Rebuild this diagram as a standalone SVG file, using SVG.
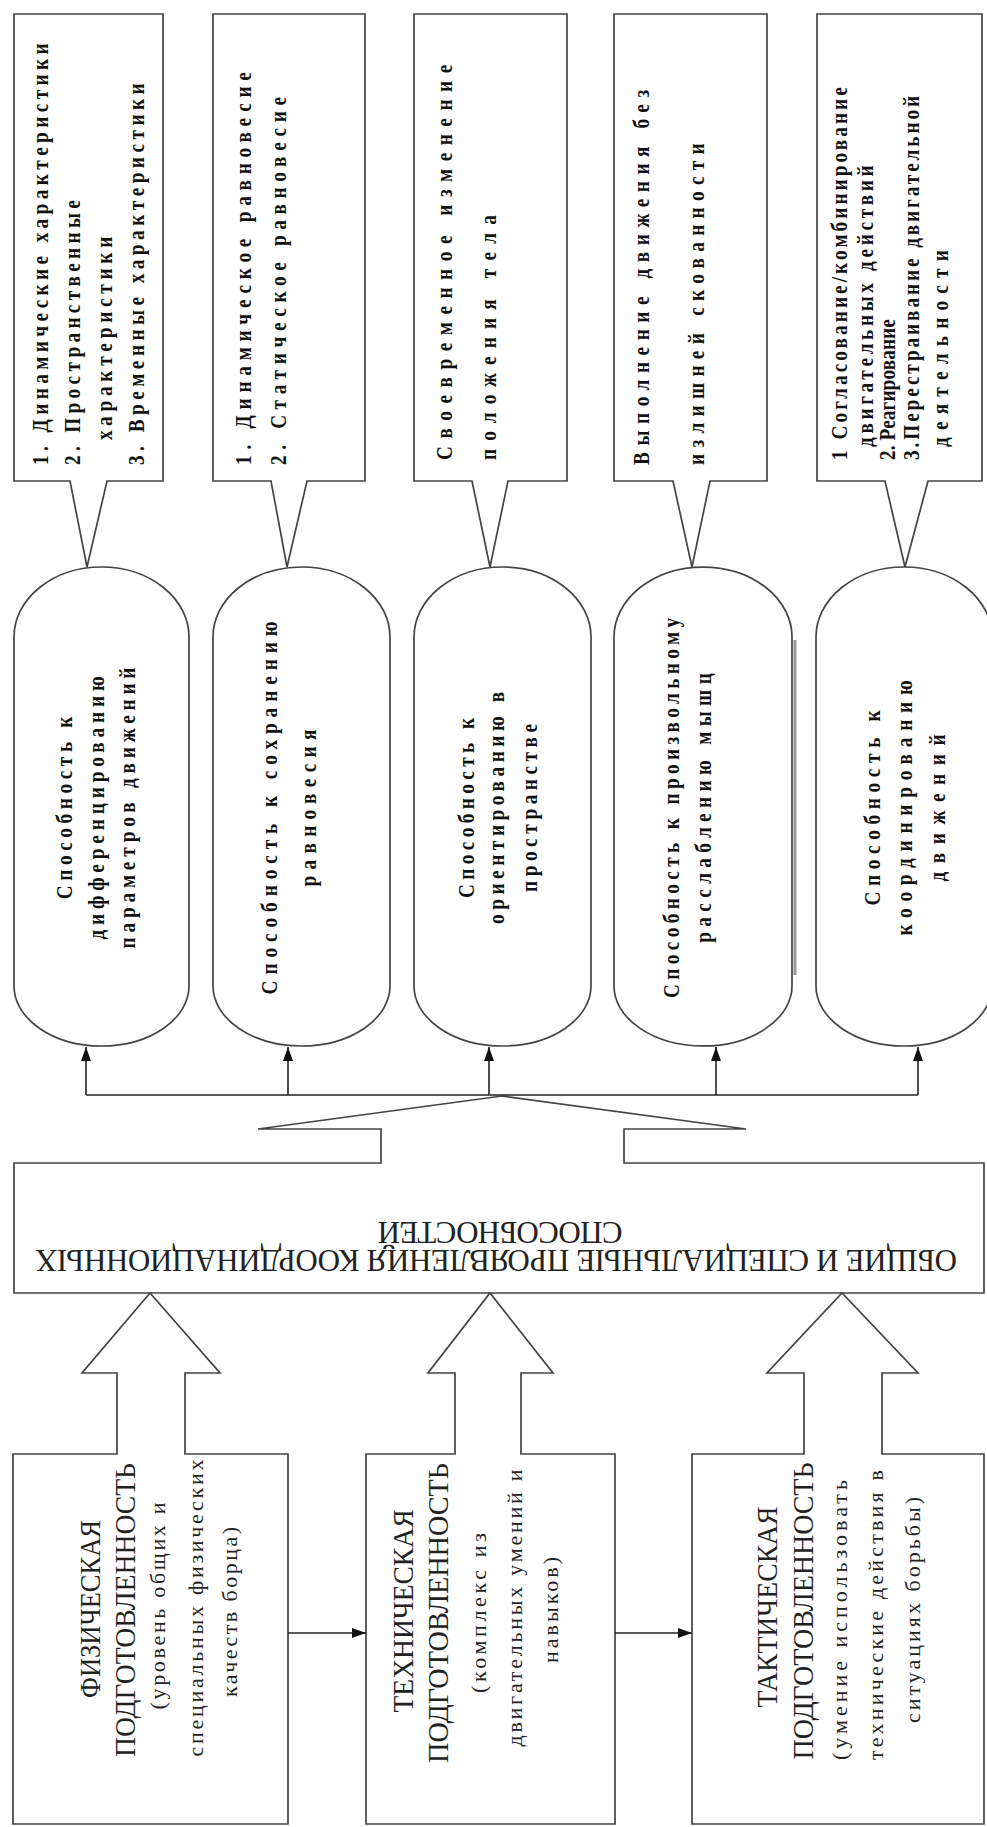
<svg xmlns="http://www.w3.org/2000/svg" width="987" height="1827" viewBox="0 0 987 1827">
<style>
.sh{fill:#fff;stroke:#444;stroke-width:1.7;stroke-linejoin:miter}
.cn{fill:none;stroke:#222;stroke-width:1.6}
.b{font-family:"Liberation Serif","Times New Roman",serif;font-weight:bold;font-size:24px;fill:#111}
.m{font-family:"Liberation Serif","Times New Roman",serif;fill:#222}
.h{font-size:30px}
.s{font-size:22px}
.c{text-anchor:middle}
</style>
<defs>
<marker id="ah" viewBox="0 0 14 10" refX="14" refY="5" markerWidth="14" markerHeight="10" orient="auto" markerUnits="userSpaceOnUse"><path d="M0,0 L14,5 L0,10 Z" fill="#111"/></marker>
</defs>
<rect width="987" height="1827" fill="#fff"/>

<g id="callout1">
<path class="sh" d="M14,14 H163 V481 H107 L87,567 L70,481 H14 Z"/>
<text class="b" transform="translate(48,465) rotate(-90) scale(0.8,1)" textLength="527">1. Динамические характеристики</text>
<text class="b" transform="translate(80,465) rotate(-90) scale(0.8,1)" textLength="331">2. Пространственные</text>
<text class="b" transform="translate(112,440) rotate(-90) scale(0.8,1)" textLength="254">характеристики</text>
<text class="b" transform="translate(144,465) rotate(-90) scale(0.8,1)" textLength="477">3. Временные характеристики</text>
</g>
<g id="callout2">
<path class="sh" d="M213,14 H365 V481 H307 L287,567 L271,481 H213 Z"/>
<text class="b" transform="translate(251,465) rotate(-90) scale(0.8,1)" textLength="491">1. Динамическое равновесие</text>
<text class="b" transform="translate(286,465) rotate(-90) scale(0.8,1)" textLength="460">2. Статическое равновесие</text>
</g>
<g id="callout3">
<path class="sh" d="M414,14 H567 V481 H508 L490,567 L472,481 H414 Z"/>
<text class="b" transform="translate(452,460) rotate(-90) scale(0.8,1)" textLength="494">Своевременное изменение</text>
<text class="b" transform="translate(496,460) rotate(-90) scale(0.8,1)" textLength="306">положения тела</text>
</g>
<g id="callout4">
<path class="sh" d="M614,14 H767 V481 H710 L692,567 L673,481 H614 Z"/>
<text class="b" transform="translate(649,465) rotate(-90) scale(0.8,1)" textLength="469">Выполнение движения без</text>
<text class="b" transform="translate(704,465) rotate(-90) scale(0.8,1)" textLength="402">излишней скованности</text>
</g>
<g id="callout5">
<path class="sh" d="M817,14 H982 V481 H928 L905,567 L885,481 H817 Z"/>
<text class="b" font-size="21" transform="translate(847,460) rotate(-90) scale(0.8,1)" textLength="466">1 Согласование/комбинирование</text>
<text class="b" font-size="21" transform="translate(873,447) rotate(-90) scale(0.8,1)" textLength="352">двигательных действий</text>
<text class="b" font-size="21" transform="translate(895,460) rotate(-90) scale(0.8,1)" textLength="176">2. Реагирование</text>
<text class="b" font-size="21" transform="translate(919,460) rotate(-90) scale(0.8,1)" textLength="455">3.Перестраивание двигательной</text>
<text class="b" font-size="21" transform="translate(948,447) rotate(-90) scale(0.8,1)" textLength="246">деятельности</text>
</g>

<g id="ability1">
<path class="sh" d="M14,637 A87.5,70 0 0 1 189,637 V986 A87.5,60 0 0 1 14,986 Z"/>
<text class="b c" transform="translate(72,808) rotate(-90) scale(0.8,1)" textLength="228">Способность к</text>
<text class="b c" transform="translate(104,808) rotate(-90) scale(0.8,1)" textLength="329">дифференцированию</text>
<text class="b c" transform="translate(135,808) rotate(-90) scale(0.8,1)" textLength="351">параметров движений</text>
</g>
<g id="ability2">
<path class="sh" d="M213,637 A88.5,70 0 0 1 390,637 V986 A88.5,60 0 0 1 213,986 Z"/>
<text class="b c" transform="translate(277,808) rotate(-90) scale(0.8,1)" textLength="466">Способность к сохранению</text>
<text class="b c" transform="translate(316,808) rotate(-90) scale(0.8,1)" textLength="196">равновесия</text>
</g>
<g id="ability3">
<path class="sh" d="M414,637 A88.5,70 0 0 1 591,637 V986 A88.5,60 0 0 1 414,986 Z"/>
<text class="b c" transform="translate(474,808) rotate(-90) scale(0.8,1)" textLength="225">Способность к</text>
<text class="b c" transform="translate(504,808) rotate(-90) scale(0.8,1)" textLength="290">ориентированию в</text>
<text class="b c" transform="translate(537,808) rotate(-90) scale(0.8,1)" textLength="210">пространстве</text>
</g>
<g id="ability4">
<path class="sh" d="M614,637 A89,70 0 0 1 792,637 V986 A89,60 0 0 1 614,986 Z"/>
<line x1="795" y1="640" x2="795" y2="975" stroke="#999" stroke-width="3"/>
<text class="b c" transform="translate(679,808) rotate(-90) scale(0.8,1)" textLength="475">Способность к произвольному</text>
<text class="b c" transform="translate(711,808) rotate(-90) scale(0.8,1)" textLength="337">расслаблению мышц</text>
</g>
<g id="ability5">
<path class="sh" d="M816,637 A88,70 0 0 1 992,637 V986 A88,60 0 0 1 816,986 Z"/>
<text class="b c" transform="translate(880,808) rotate(-90) scale(0.8,1)" textLength="244">Способность к</text>
<text class="b c" transform="translate(912,808) rotate(-90) scale(0.8,1)" textLength="319">координированию</text>
<text class="b c" transform="translate(945,808) rotate(-90) scale(0.8,1)" textLength="184">движений</text>
</g>

<g id="summary">
<path class="sh" d="M14,1163 H381 V1129 H258 L502,1096 L746,1129 H624 V1163 H984 V1293 H14 Z"/>
<text class="m c" font-size="31" transform="translate(496,1250) rotate(180)" textLength="922">ОБЩИЕ И СПЕЦИАЛЬНЫЕ ПРОЯВЛЕНИЯ КООРДИНАЦИОННЫХ</text>
<text class="m c" font-size="31" transform="translate(500,1222) rotate(180)" textLength="245">СПОСОБНОСТЕЙ</text>
</g>

<g id="physical">
<path class="sh" d="M13,1824 V1454 H117 V1373 H82 L150,1293 L220,1373 H185 V1454 H288 V1824 Z"/>
<text class="m h c" transform="translate(100,1609) rotate(-90)" textLength="178" lengthAdjust="spacingAndGlyphs">ФИЗИЧЕСКАЯ</text>
<text class="m h c" transform="translate(135,1610) rotate(-90)" textLength="294" lengthAdjust="spacingAndGlyphs">ПОДГОТОВЛЕННОСТЬ</text>
<text class="m s c" transform="translate(165,1606) rotate(-90)" textLength="207">(уровень общих и</text>
<text class="m s c" transform="translate(203,1608) rotate(-90)" textLength="297">специальных физических</text>
<text class="m s c" transform="translate(237,1612) rotate(-90)" textLength="170">качеств борца)</text>
</g>
<g id="technical">
<path class="sh" d="M366,1824 V1454 H455 V1373 H428 L490,1293 L553,1373 H521 V1454 H615 V1824 Z"/>
<text class="m h c" transform="translate(413,1611) rotate(-90)" textLength="203" lengthAdjust="spacingAndGlyphs">ТЕХНИЧЕСКАЯ</text>
<text class="m h c" transform="translate(448,1613) rotate(-90)" textLength="300" lengthAdjust="spacingAndGlyphs">ПОДГОТОВЛЕННОСТЬ</text>
<text class="m s c" transform="translate(486,1613) rotate(-90)" textLength="160">(комплекс из</text>
<text class="m s c" transform="translate(522,1608) rotate(-90)" textLength="277">двигательных умений и</text>
<text class="m s c" transform="translate(558,1610) rotate(-90)" textLength="106">навыков)</text>
</g>
<g id="tactical">
<path class="sh" d="M692,1824 V1454 H804 V1373 H767 L842,1293 L918,1373 H882 V1454 H984 V1824 Z"/>
<text class="m h c" transform="translate(777,1607) rotate(-90)" textLength="201" lengthAdjust="spacingAndGlyphs">ТАКТИЧЕСКАЯ</text>
<text class="m h c" transform="translate(813,1611) rotate(-90)" textLength="297" lengthAdjust="spacingAndGlyphs">ПОДГОТОВЛЕННОСТЬ</text>
<text class="m s c" transform="translate(847,1620) rotate(-90)" textLength="280">(умение использовать</text>
<text class="m s c" transform="translate(883,1615) rotate(-90)" textLength="290">технические действия в</text>
<text class="m s c" transform="translate(920,1610) rotate(-90)" textLength="226">ситуациях борьбы)</text>
</g>

<g id="connectors">
<path class="cn" d="M86,1095 H918"/>
<path class="cn" d="M86,1095 V1047" marker-end="url(#ah)"/>
<path class="cn" d="M288,1095 V1047" marker-end="url(#ah)"/>
<path class="cn" d="M489,1095 V1047" marker-end="url(#ah)"/>
<path class="cn" d="M716,1095 V1047" marker-end="url(#ah)"/>
<path class="cn" d="M918,1095 V1047" marker-end="url(#ah)"/>
<path class="cn" d="M288,1633 H366" marker-end="url(#ah)"/>
<path class="cn" d="M615,1633 H692" marker-end="url(#ah)"/>
</g>
</svg>
